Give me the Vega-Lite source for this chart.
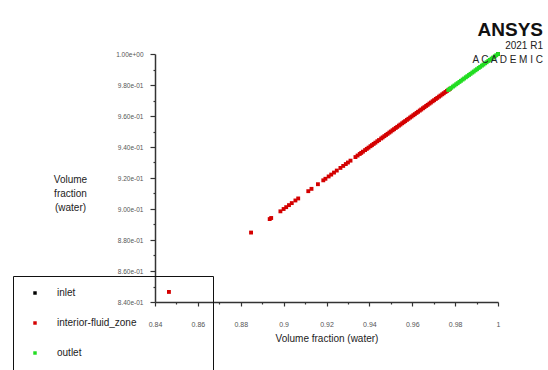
{
  "$schema": "https://vega.github.io/schema/vega-lite/v6.json",
  "width": 343,
  "height": 248,
  "autosize": "none",
  "padding": {"left": 155, "top": 54, "right": 50, "bottom": 68},
  "background": "white",
  "config": {"view": {"stroke": null}, "font": "Liberation Sans"},
  "title": {
    "text": "ANSYS",
    "subtitle": ["2021 R1", "A C A D E M I C"],
    "anchor": "end",
    "frame": "group",
    "dx": 45,
    "offset": -14,
    "font": "Liberation Sans",
    "fontSize": 19,
    "fontWeight": "bold",
    "color": "#111111",
    "subtitleFont": "Liberation Sans",
    "subtitleFontSize": 10,
    "subtitleColor": "#222222",
    "subtitlePadding": 1,
    "subtitleLineHeight": 14
  },
  "data": {
    "values": [
      {"zone": "inlet", "x": 1.0, "y": 1.0},
      {"zone": "interior-fluid_zone", "x": 0.8465, "y": 0.8465},
      {"zone": "interior-fluid_zone", "x": 0.8848, "y": 0.8848},
      {"zone": "interior-fluid_zone", "x": 0.8935, "y": 0.8935},
      {"zone": "interior-fluid_zone", "x": 0.8942, "y": 0.8942},
      {"zone": "interior-fluid_zone", "x": 0.8985, "y": 0.8985},
      {"zone": "interior-fluid_zone", "x": 0.9000, "y": 0.9000},
      {"zone": "interior-fluid_zone", "x": 0.9012, "y": 0.9012},
      {"zone": "interior-fluid_zone", "x": 0.9025, "y": 0.9025},
      {"zone": "interior-fluid_zone", "x": 0.9038, "y": 0.9038},
      {"zone": "interior-fluid_zone", "x": 0.9055, "y": 0.9055},
      {"zone": "interior-fluid_zone", "x": 0.9068, "y": 0.9068},
      {"zone": "interior-fluid_zone", "x": 0.9115, "y": 0.9115},
      {"zone": "interior-fluid_zone", "x": 0.9130, "y": 0.9130},
      {"zone": "interior-fluid_zone", "x": 0.9160, "y": 0.9160},
      {"zone": "interior-fluid_zone", "x": 0.9185, "y": 0.9185},
      {"zone": "interior-fluid_zone", "x": 0.9195, "y": 0.9195},
      {"zone": "interior-fluid_zone", "x": 0.9210, "y": 0.9210},
      {"zone": "interior-fluid_zone", "x": 0.9222, "y": 0.9222},
      {"zone": "interior-fluid_zone", "x": 0.9235, "y": 0.9235},
      {"zone": "interior-fluid_zone", "x": 0.9248, "y": 0.9248},
      {"zone": "interior-fluid_zone", "x": 0.9265, "y": 0.9265},
      {"zone": "interior-fluid_zone", "x": 0.9278, "y": 0.9278},
      {"zone": "interior-fluid_zone", "x": 0.9290, "y": 0.9290},
      {"zone": "interior-fluid_zone", "x": 0.9300, "y": 0.9300},
      {"zone": "interior-fluid_zone", "x": 0.9312, "y": 0.9312},
      {"zone": "interior-fluid_zone", "x": 0.9335, "y": 0.9335},
      {"zone": "interior-fluid_zone", "x": 0.9345, "y": 0.9345},
      {"zone": "interior-fluid_zone", "x": 0.9355, "y": 0.9355},
      {"zone": "interior-fluid_zone", "x": 0.9362, "y": 0.9362},
      {"zone": "interior-fluid_zone", "x": 0.9370, "y": 0.9370},
      {"zone": "interior-fluid_zone", "x": 0.9380, "y": 0.9380},
      {"zone": "interior-fluid_zone", "x": 0.9388, "y": 0.9388},
      {"zone": "interior-fluid_zone", "x": 0.9396, "y": 0.9396},
      {"zone": "interior-fluid_zone", "x": 0.9405, "y": 0.9405},
      {"zone": "interior-fluid_zone", "x": 0.9412, "y": 0.9412},
      {"zone": "interior-fluid_zone", "x": 0.9420, "y": 0.9420},
      {"zone": "interior-fluid_zone", "x": 0.9428, "y": 0.9428},
      {"zone": "interior-fluid_zone", "x": 0.9437, "y": 0.9437},
      {"zone": "interior-fluid_zone", "x": 0.9445, "y": 0.9445},
      {"zone": "interior-fluid_zone", "x": 0.9455, "y": 0.9455},
      {"zone": "interior-fluid_zone", "x": 0.9462, "y": 0.9462},
      {"zone": "interior-fluid_zone", "x": 0.9470, "y": 0.9470},
      {"zone": "interior-fluid_zone", "x": 0.9478, "y": 0.9478},
      {"zone": "interior-fluid_zone", "x": 0.9485, "y": 0.9485},
      {"zone": "interior-fluid_zone", "x": 0.9493, "y": 0.9493},
      {"zone": "interior-fluid_zone", "x": 0.9500, "y": 0.9500},
      {"zone": "interior-fluid_zone", "x": 0.9508, "y": 0.9508},
      {"zone": "interior-fluid_zone", "x": 0.9515, "y": 0.9515},
      {"zone": "interior-fluid_zone", "x": 0.9523, "y": 0.9523},
      {"zone": "interior-fluid_zone", "x": 0.9530, "y": 0.9530},
      {"zone": "interior-fluid_zone", "x": 0.9538, "y": 0.9538},
      {"zone": "interior-fluid_zone", "x": 0.9545, "y": 0.9545},
      {"zone": "interior-fluid_zone", "x": 0.9553, "y": 0.9553},
      {"zone": "interior-fluid_zone", "x": 0.9560, "y": 0.9560},
      {"zone": "interior-fluid_zone", "x": 0.9567, "y": 0.9567},
      {"zone": "interior-fluid_zone", "x": 0.9575, "y": 0.9575},
      {"zone": "interior-fluid_zone", "x": 0.9582, "y": 0.9582},
      {"zone": "interior-fluid_zone", "x": 0.9590, "y": 0.9590},
      {"zone": "interior-fluid_zone", "x": 0.9597, "y": 0.9597},
      {"zone": "interior-fluid_zone", "x": 0.9605, "y": 0.9605},
      {"zone": "interior-fluid_zone", "x": 0.9612, "y": 0.9612},
      {"zone": "interior-fluid_zone", "x": 0.9620, "y": 0.9620},
      {"zone": "interior-fluid_zone", "x": 0.9627, "y": 0.9627},
      {"zone": "interior-fluid_zone", "x": 0.9635, "y": 0.9635},
      {"zone": "interior-fluid_zone", "x": 0.9642, "y": 0.9642},
      {"zone": "interior-fluid_zone", "x": 0.9650, "y": 0.9650},
      {"zone": "interior-fluid_zone", "x": 0.9657, "y": 0.9657},
      {"zone": "interior-fluid_zone", "x": 0.9665, "y": 0.9665},
      {"zone": "interior-fluid_zone", "x": 0.9672, "y": 0.9672},
      {"zone": "interior-fluid_zone", "x": 0.9680, "y": 0.9680},
      {"zone": "interior-fluid_zone", "x": 0.9687, "y": 0.9687},
      {"zone": "interior-fluid_zone", "x": 0.9695, "y": 0.9695},
      {"zone": "interior-fluid_zone", "x": 0.9702, "y": 0.9702},
      {"zone": "interior-fluid_zone", "x": 0.9710, "y": 0.9710},
      {"zone": "interior-fluid_zone", "x": 0.9717, "y": 0.9717},
      {"zone": "interior-fluid_zone", "x": 0.9725, "y": 0.9725},
      {"zone": "interior-fluid_zone", "x": 0.9732, "y": 0.9732},
      {"zone": "interior-fluid_zone", "x": 0.9740, "y": 0.9740},
      {"zone": "interior-fluid_zone", "x": 0.9747, "y": 0.9747},
      {"zone": "interior-fluid_zone", "x": 0.9755, "y": 0.9755},
      {"zone": "interior-fluid_zone", "x": 0.9762, "y": 0.9762},
      {"zone": "interior-fluid_zone", "x": 0.9770, "y": 0.9770},
      {"zone": "interior-fluid_zone", "x": 0.9776, "y": 0.9776},
      {"zone": "outlet", "x": 0.9768, "y": 0.9768},
      {"zone": "outlet", "x": 0.9775, "y": 0.9775},
      {"zone": "outlet", "x": 0.9782, "y": 0.9782},
      {"zone": "outlet", "x": 0.9790, "y": 0.9790},
      {"zone": "outlet", "x": 0.9797, "y": 0.9797},
      {"zone": "outlet", "x": 0.9805, "y": 0.9805},
      {"zone": "outlet", "x": 0.9812, "y": 0.9812},
      {"zone": "outlet", "x": 0.9820, "y": 0.9820},
      {"zone": "outlet", "x": 0.9827, "y": 0.9827},
      {"zone": "outlet", "x": 0.9835, "y": 0.9835},
      {"zone": "outlet", "x": 0.9842, "y": 0.9842},
      {"zone": "outlet", "x": 0.9850, "y": 0.9850},
      {"zone": "outlet", "x": 0.9857, "y": 0.9857},
      {"zone": "outlet", "x": 0.9865, "y": 0.9865},
      {"zone": "outlet", "x": 0.9872, "y": 0.9872},
      {"zone": "outlet", "x": 0.9880, "y": 0.9880},
      {"zone": "outlet", "x": 0.9887, "y": 0.9887},
      {"zone": "outlet", "x": 0.9895, "y": 0.9895},
      {"zone": "outlet", "x": 0.9902, "y": 0.9902},
      {"zone": "outlet", "x": 0.9910, "y": 0.9910},
      {"zone": "outlet", "x": 0.9917, "y": 0.9917},
      {"zone": "outlet", "x": 0.9925, "y": 0.9925},
      {"zone": "outlet", "x": 0.9932, "y": 0.9932},
      {"zone": "outlet", "x": 0.9940, "y": 0.9940},
      {"zone": "outlet", "x": 0.9947, "y": 0.9947},
      {"zone": "outlet", "x": 0.9955, "y": 0.9955},
      {"zone": "outlet", "x": 0.9962, "y": 0.9962},
      {"zone": "outlet", "x": 0.9970, "y": 0.9970},
      {"zone": "outlet", "x": 0.9977, "y": 0.9977},
      {"zone": "outlet", "x": 0.9985, "y": 0.9985},
      {"zone": "outlet", "x": 0.9992, "y": 0.9992},
      {"zone": "outlet", "x": 1.0, "y": 1.0}
    ]
  },
  "mark": {"type": "point", "shape": "square", "filled": true, "size": 15, "opacity": 1},
  "encoding": {
    "x": {
      "field": "x",
      "type": "quantitative",
      "scale": {"domain": [0.84, 1.0], "nice": false, "zero": false},
      "axis": {
        "title": "Volume fraction (water)",
        "titleFont": "Liberation Sans",
        "titleFontSize": 10,
        "titleFontWeight": "normal",
        "titleColor": "#222222",
        "titlePadding": 6,
        "values": [0.84, 0.85, 0.86, 0.87, 0.88, 0.89, 0.9, 0.91, 0.92, 0.93, 0.94, 0.95, 0.96, 0.97, 0.98, 0.99, 1.0],
        "labelExpr": "round(datum.value*100) % 2 == 0 ? format(datum.value, '~g') : ''",
        "labelFontSize": 7,
        "labelColor": "#555555",
        "labelPadding": 14,
        "labelFlush": false,
        "labelOverlap": false,
        "grid": false,
        "domainColor": "#333333",
        "domainWidth": 1.5,
        "tickColor": "#333333",
        "tickWidth": 1.2,
        "tickSize": {"condition": {"test": "round(datum.value*100) % 2 == 0", "value": 4}, "value": 2}
      }
    },
    "y": {
      "field": "y",
      "type": "quantitative",
      "scale": {"domain": [0.84, 1.0], "nice": false, "zero": false},
      "axis": {
        "title": ["Volume", "fraction", "(water)"],
        "titleFont": "Liberation Sans",
        "titleFontSize": 10,
        "titleFontWeight": "normal",
        "titleColor": "#222222",
        "titleAngle": 0,
        "titleAlign": "center",
        "titleBaseline": "middle",
        "titleLineHeight": 14,
        "titleX": -85,
        "titleY": 125,
        "values": [0.84, 0.85, 0.86, 0.87, 0.88, 0.89, 0.9, 0.91, 0.92, 0.93, 0.94, 0.95, 0.96, 0.97, 0.98, 0.99, 1.0],
        "labelExpr": "round(datum.value*100) % 2 == 0 ? replace(replace(format(datum.value, '.2e'), 'e-', 'e-0'), 'e+', 'e+0') : ''",
        "labelFontSize": 6.5,
        "labelColor": "#555555",
        "labelPadding": 7,
        "labelFlush": false,
        "labelOverlap": false,
        "grid": false,
        "domainColor": "#333333",
        "domainWidth": 1.5,
        "tickColor": "#333333",
        "tickWidth": 1.2,
        "tickSize": {"condition": {"test": "round(datum.value*100) % 2 == 0", "value": 5}, "value": 2}
      }
    },
    "color": {
      "field": "zone",
      "type": "nominal",
      "scale": {"domain": ["inlet", "interior-fluid_zone", "outlet"], "range": ["#000000", "#d40000", "#22dd22"]},
      "legend": {
        "title": null,
        "orient": "none",
        "legendX": -142,
        "legendY": 222,
        "strokeColor": "#111111",
        "fillColor": null,
        "padding": 12,
        "symbolType": "square",
        "symbolSize": 12,
        "symbolOffset": 5,
        "labelOffset": 17,
        "labelFont": "Liberation Sans",
        "labelFontSize": 10,
        "labelColor": "#222222",
        "labelExpr": "datum.label == 'outlet' ? datum.label + '\u00a0\u00a0\u00a0\u00a0\u00a0\u00a0\u00a0\u00a0\u00a0\u00a0\u00a0\u00a0\u00a0\u00a0\u00a0\u00a0\u00a0\u00a0\u00a0\u00a0\u00a0\u00a0\u00a0\u00a0\u00a0\u00a0\u00a0\u00a0\u00a0\u00a0\u00a0\u00a0\u00a0\u00a0\u00a0\u00a0\u00a0\u00a0\u00a0\u00a0\u00a0\u00a0\u00a0\u200b' : datum.label",
        "labelLimit": 400,
        "rowPadding": 20,
        "encode": {"legend": {"update": {"strokeWidth": {"value": 2}}}}
      }
    }
  }
}
